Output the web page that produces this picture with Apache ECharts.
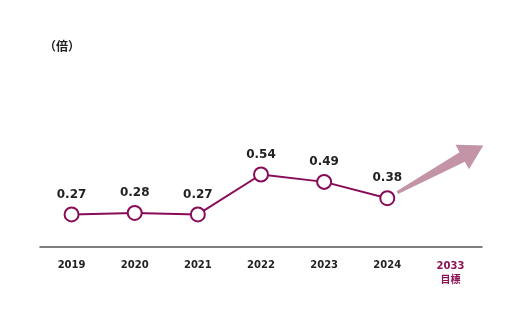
<!DOCTYPE html>
<html><head><meta charset="utf-8">
<script src="https://cdn.jsdelivr.net/npm/echarts@6/dist/echarts.min.js"></script>
<style>html,body{margin:0;padding:0;background:#fff}#c{width:522px;height:324px}</style>
</head><body><div id="c"></div>
<script>
var categories = ['2019','2020','2021','2022','2023','2024','2033'];
var values = [0.27, 0.28, 0.27, 0.54, 0.49, 0.38];
var labels = ['0.27','0.28','0.27','0.54','0.49','0.38'];
var arrowFrom = [5, 0.38];
var arrowTo = [6.52, 0.736];
var unitText = '（倍）';
var targetSub = '目標';

var chart = echarts.init(document.getElementById('c'));
var mainColor = '#880c58';
chart.setOption({
  animation: false,
  graphic: [{type:'text', left:44, top:40, style:{text:unitText, font:'bold 12px "Noto Sans CJK JP"', fill:'#222'}}],
  grid: {left:40, right:40, top:62, bottom:77},
  xAxis: {
    type:'category', data: categories, boundaryGap:true,
    axisLine:{lineStyle:{color:'#555', width:1.5}},
    axisTick:{show:false},
    axisLabel:{
      margin:13,
      formatter:function(v){ return v==='2033' ? '{t|'+v+'}\n{s|'+targetSub+'}' : '{n|'+v+'}'; },
      rich:{
        n:{fontFamily:'DejaVu Sans', fontWeight:'bold', fontSize:10, color:'#222'},
        t:{fontFamily:'DejaVu Sans', fontWeight:'bold', fontSize:10, color:'#8b1454', lineHeight:13},
        s:{fontFamily:'Noto Sans CJK JP', fontWeight:'bold', fontSize:10, color:'#8b1454', lineHeight:13}
      }
    }
  },
  yAxis: {type:'value', min:0.05, max:1.3, show:false, splitLine:{show:false}},
  series: [
    {
      type:'custom', z:1, silent:true,
      data:[[arrowFrom[0],arrowFrom[1],arrowTo[0],arrowTo[1]]],
      renderItem:function(params, api){
        function coordAt(xv, yv){
          var i=Math.floor(xv), f=xv-i;
          var p0=api.coord([i, yv]), p1=api.coord([i+1 < categories.length ? i+1 : i-1, yv]);
          var step = (i+1 < categories.length) ? (p1[0]-p0[0]) : (p0[0]-p1[0]);
          return [p0[0]+f*step, p0[1]];
        }
        var a = coordAt(api.value(0), api.value(1));
        var b = coordAt(api.value(2), api.value(3));
        var dx=b[0]-a[0], dy=b[1]-a[1], L=Math.sqrt(dx*dx+dy*dy);
        var ux=dx/L, uy=dy/L, nx=-uy, ny=ux;
        var s=[a[0]+ux*11.5, a[1]+uy*11.5];
        var Ls=L-11.5, head=24, hw=14, sw0=1.5, sw1=5.5;
        function P(t,w){return [s[0]+ux*t+nx*w, s[1]+uy*t+ny*w];}
        var pts=[P(0,sw0),P(Ls-head,sw1),P(Ls-head,hw),P(Ls,0),P(Ls-head,-hw),P(Ls-head,-sw1),P(0,-sw0)];
        return {type:'polygon', shape:{points:pts}, style:{fill:'#c394a7'}};
      }
    },
    {
      type:'line', z:3, data: values,
      symbol:'circle', symbolSize:14, showAllSymbol:true,
      lineStyle:{color:mainColor, width:2},
      itemStyle:{color:'#fff', borderColor:mainColor, borderWidth:2},
      label:{show:true, position:'top', distance:6,
        formatter:function(p){return labels[p.dataIndex];},
        fontFamily:'DejaVu Sans', fontWeight:'bold', fontSize:12, color:'#222'}
    }
  ]
});
</script></body></html>
